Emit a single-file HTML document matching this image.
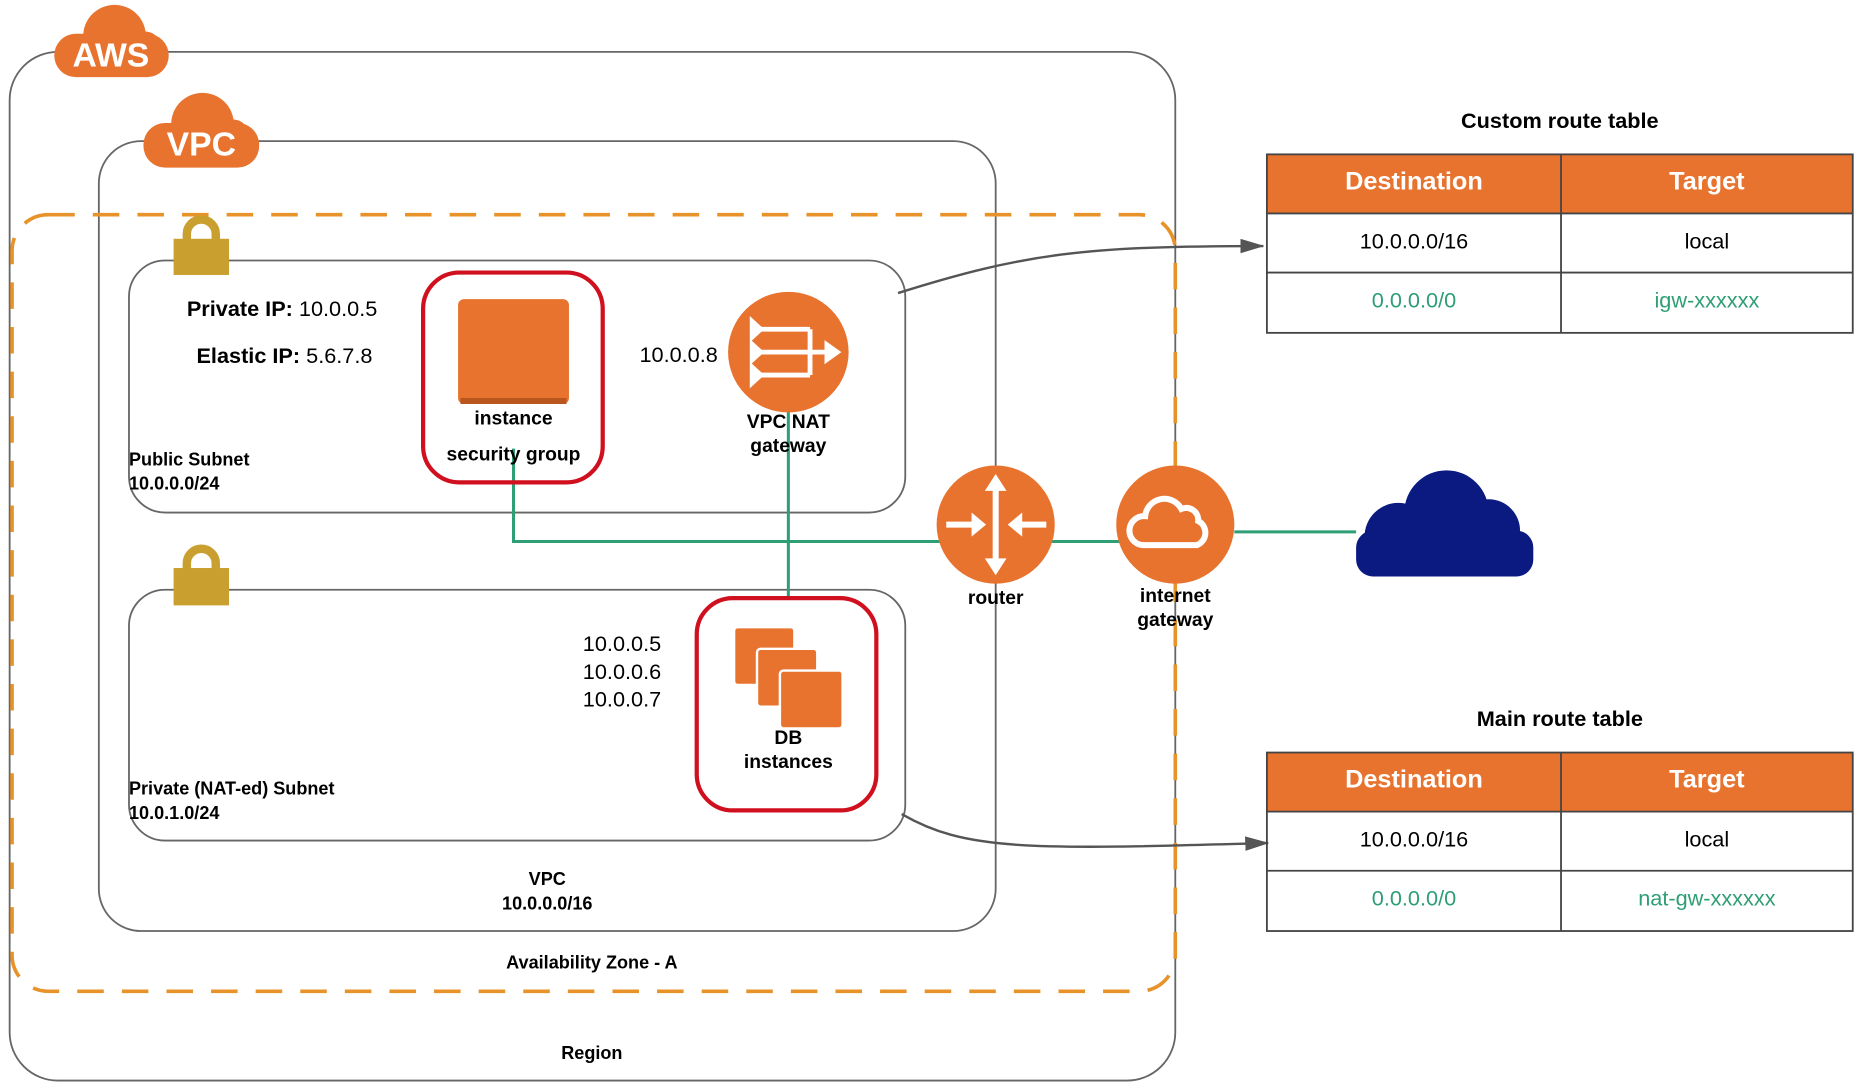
<!DOCTYPE html>
<html><head><meta charset="utf-8"><style>html,body{margin:0;padding:0;background:#fff;}svg{display:block}text{font-family:"Liberation Sans",Arial,sans-serif}</style></head>
<body>
<svg width="1866" height="1089" viewBox="0 0 1548 903" preserveAspectRatio="none" xmlns="http://www.w3.org/2000/svg">
<defs>
<marker id="ah" markerWidth="10" markerHeight="10" refX="9" refY="5" orient="auto" markerUnits="userSpaceOnUse"><path d="M0,0 L20,5 L0,10 z" fill="#555" transform="scale(0.5,1)"/></marker>
<marker id="ah2" markerWidth="20" markerHeight="12" refX="19" refY="6" orient="auto" markerUnits="userSpaceOnUse"><path d="M0,0 L20,6 L0,12 z" fill="#555"/></marker>
</defs>
<!-- Region -->
<rect x="8" y="43" width="967" height="853" rx="40" fill="none" stroke="#666" stroke-width="1.5"/>
<!-- VPC -->
<rect x="82" y="117" width="744" height="655" rx="35" fill="none" stroke="#666" stroke-width="1.5"/>
<!-- AZ dashed -->
<rect x="10" y="178" width="965" height="644" rx="30" fill="none" stroke="#E8922A" stroke-width="3" stroke-dasharray="22,15"/>
<!-- subnets -->
<rect x="107" y="216" width="644" height="209" rx="30" fill="none" stroke="#666" stroke-width="1.5"/>
<rect x="107" y="489" width="644" height="208" rx="30" fill="none" stroke="#666" stroke-width="1.5"/>
<!-- AWS cloud -->
<g fill="#E8732F">
<circle cx="95" cy="30" r="26"/><circle cx="120" cy="40" r="14"/><rect x="45" y="28" width="95" height="36" rx="18"/>
<circle cx="168" cy="103" r="26"/><circle cx="193" cy="113" r="14"/><rect x="119" y="102" width="96" height="37" rx="18"/>
</g>
<text x="92" y="55" font-size="28" fill="#fff" text-anchor="middle" font-weight="bold" transform="scale(1,1)">AWS</text>
<text x="167" y="129" font-size="28" fill="#fff" text-anchor="middle" font-weight="bold">VPC</text>
<!-- locks -->
<g fill="none" stroke="#C9A030" stroke-width="7"><path d="M155,200 v-6 a12,12 0 0 1 24,0 v6"/><path d="M155,473 v-6 a12,12 0 0 1 24,0 v6"/></g>
<rect x="144" y="198" width="46" height="30" fill="#C9A030"/>
<rect x="144" y="471" width="46" height="31" fill="#C9A030"/>
<!-- green lines -->
<g stroke="#2E9E75" stroke-width="2.5" fill="none">
<path d="M426,372 V449 H975"/><path d="M654,340 V496"/><path d="M1024,441 H1125"/>
</g>
<!-- security groups -->
<rect x="351" y="226" width="149" height="174" rx="30" fill="#fff" fill-opacity="0" stroke="#D0101E" stroke-width="3.5"/>
<rect x="578" y="496" width="149" height="176" rx="30" fill="none" stroke="#D0101E" stroke-width="3.5"/>
<rect x="380" y="248" width="92" height="87" rx="5" fill="#E8732F"/>
<rect x="382" y="330" width="88" height="5" fill="#B8561E"/>
<text x="426" y="352" font-size="16" font-weight="bold" text-anchor="middle">instance</text>
<text x="426" y="382" font-size="16" font-weight="bold" text-anchor="middle">security group</text>
<!-- DB instances -->
<g fill="#E8732F" stroke="#fff" stroke-width="2">
<rect x="609" y="520" width="50" height="48" rx="3"/><rect x="628" y="538" width="50" height="48" rx="3"/><rect x="647" y="556" width="52" height="48" rx="3"/>
</g>
<text x="654" y="617" font-size="16" font-weight="bold" text-anchor="middle">DB</text>
<text x="654" y="637" font-size="16" font-weight="bold" text-anchor="middle">instances</text>
<!-- NAT -->
<circle cx="654" cy="292" r="50" fill="#E8732F"/>
<g stroke="#fff" stroke-width="4" fill="none"><path d="M628,273 H672 M628,292 H685 M628,311 H672 M672,273 V311"/></g>
<g fill="#fff"><path d="M622,262 l12,11 l-12,11z M622,281 l12,11 l-12,11z M622,300 l12,11 l-12,11z M684,282 l14,10 l-14,10z"/></g>
<text x="654" y="355" font-size="16" font-weight="bold" text-anchor="middle">VPC NAT</text>
<text x="654" y="375" font-size="16" font-weight="bold" text-anchor="middle">gateway</text>
<text x="563" y="300" font-size="18" text-anchor="middle">10.0.0.8</text>
<!-- router -->
<circle cx="826" cy="435" r="49" fill="#E8732F"/>
<g stroke="#fff" stroke-width="5" fill="none"><path d="M826,405 V465 M785,435 H808 M846,435 H868"/></g>
<g fill="#fff"><path d="M826,393 l-9,14 h18z M826,477 l-9,-14 h18z M818,435 l-12,-10 v20z M836,435 l12,-10 v20z"/></g>
<text x="826" y="501" font-size="16" font-weight="bold" text-anchor="middle">router</text>
<!-- IGW -->
<circle cx="975" cy="435" r="49" fill="#E8732F"/>
<path d="M948,452 a12,12 0 0 1 2,-24 a16,16 0 0 1 30,-6 a10,10 0 0 1 14,10 a11,11 0 0 1 -1,20 z" fill="none" stroke="#fff" stroke-width="5"/>
<text x="975" y="499" font-size="16" font-weight="bold" text-anchor="middle">internet</text>
<text x="975" y="519" font-size="16" font-weight="bold" text-anchor="middle">gateway</text>
<!-- navy cloud -->
<g fill="#0A1A80"><circle cx="1200" cy="425" r="35"/><circle cx="1235" cy="440" r="26"/><circle cx="1160" cy="445" r="28"/><rect x="1125" y="440" width="147" height="38" rx="14"/></g>
<!-- labels -->
<text x="155" y="262" font-size="18"><tspan font-weight="bold">Private IP:</tspan> 10.0.0.5</text>
<text x="163" y="301" font-size="18"><tspan font-weight="bold">Elastic IP:</tspan> 5.6.7.8</text>
<text x="107" y="386" font-size="15" font-weight="bold">Public Subnet</text>
<text x="107" y="406" font-size="15" font-weight="bold">10.0.0.0/24</text>
<text x="107" y="659" font-size="15" font-weight="bold">Private (NAT-ed) Subnet</text>
<text x="107" y="679" font-size="15" font-weight="bold">10.0.1.0/24</text>
<text x="516" y="540" font-size="18" text-anchor="middle">10.0.0.5</text>
<text x="516" y="563" font-size="18" text-anchor="middle">10.0.0.6</text>
<text x="516" y="586" font-size="18" text-anchor="middle">10.0.0.7</text>
<text x="454" y="734" font-size="15" font-weight="bold" text-anchor="middle">VPC</text>
<text x="454" y="754" font-size="15" font-weight="bold" text-anchor="middle">10.0.0.0/16</text>
<text x="491" y="803" font-size="15" font-weight="bold" text-anchor="middle">Availability Zone - A</text>
<text x="491" y="878" font-size="15" font-weight="bold" text-anchor="middle">Region</text>
<!-- arrows -->
<path d="M745,243 C850,210 900,204 1048,204" fill="none" stroke="#555" stroke-width="2" marker-end="url(#ah2)"/>
<path d="M748,675 C800,705 850,705 1052,699" fill="none" stroke="#555" stroke-width="2" marker-end="url(#ah2)"/>
<!-- tables -->
<text x="1294" y="106" font-size="18" font-weight="bold" text-anchor="middle">Custom route table</text>
<rect x="1051" y="128" width="486" height="49" fill="#E8732F"/>
<rect x="1051" y="128" width="486" height="148" fill="none" stroke="#444" stroke-width="1.5"/>
<path d="M1295,128 V276 M1051,177 H1537 M1051,226 H1537" stroke="#444" stroke-width="1.5"/>
<text x="1173" y="157" font-size="21" font-weight="bold" fill="#fff" text-anchor="middle">Destination</text>
<text x="1416" y="157" font-size="21" font-weight="bold" fill="#fff" text-anchor="middle">Target</text>
<text x="1173" y="206" font-size="18" text-anchor="middle">10.0.0.0/16</text>
<text x="1416" y="206" font-size="18" text-anchor="middle">local</text>
<text x="1173" y="255" font-size="18" fill="#2E9E75" text-anchor="middle">0.0.0.0/0</text>
<text x="1416" y="255" font-size="18" fill="#2E9E75" text-anchor="middle">igw-xxxxxx</text>

<text x="1294" y="602" font-size="18" font-weight="bold" text-anchor="middle">Main route table</text>
<rect x="1051" y="624" width="486" height="49" fill="#E8732F"/>
<rect x="1051" y="624" width="486" height="148" fill="none" stroke="#444" stroke-width="1.5"/>
<path d="M1295,624 V772 M1051,673 H1537 M1051,722 H1537" stroke="#444" stroke-width="1.5"/>
<text x="1173" y="653" font-size="21" font-weight="bold" fill="#fff" text-anchor="middle">Destination</text>
<text x="1416" y="653" font-size="21" font-weight="bold" fill="#fff" text-anchor="middle">Target</text>
<text x="1173" y="702" font-size="18" text-anchor="middle">10.0.0.0/16</text>
<text x="1416" y="702" font-size="18" text-anchor="middle">local</text>
<text x="1173" y="751" font-size="18" fill="#2E9E75" text-anchor="middle">0.0.0.0/0</text>
<text x="1416" y="751" font-size="18" fill="#2E9E75" text-anchor="middle">nat-gw-xxxxxx</text>
</svg>
</body></html>
